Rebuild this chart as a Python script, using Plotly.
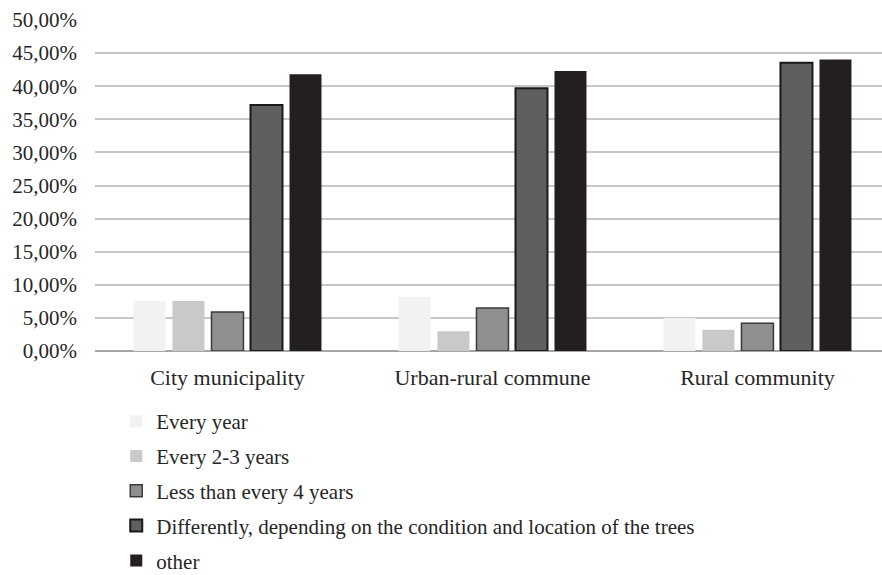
import plotly.graph_objects as go

categories = ["City municipality", "Urban-rural commune", "Rural community"]
series_names = [
    "Every year",
    "Every 2-3 years",
    "Less than every 4 years",
    "Differently, depending on the condition and location of the trees",
    "other",
]
values = [
    [0.0755, 0.0820, 0.0500],
    [0.0755, 0.0300, 0.0320],
    [0.0590, 0.0650, 0.0420],
    [0.3715, 0.3970, 0.4355],
    [0.4180, 0.4230, 0.4405],
]
fill_colors = ["#f2f2f2", "#c9c9c9", "#8f8f8f", "#5f5f5f", "#231f20"]
line_colors = ["#f2f2f2", "#c9c9c9", "#3a3a3a", "#1a1a1a", "#231f20"]
line_widths = [0, 0, 1.5, 2, 0]

fig = go.Figure()
for i, name in enumerate(series_names):
    fig.add_trace(go.Bar(
        x=categories,
        y=values[i],
        name=name,
        legendgroup=f"g{i}",
        marker=dict(color=fill_colors[i],
                    line=dict(color=line_colors[i], width=line_widths[i])),
    ))

fig.update_layout(
    width=882, height=575,
    margin=dict(l=95, r=0, t=20, b=224),
    paper_bgcolor="white", plot_bgcolor="white",
    separators=",.",
    barmode="group",
    bargap=0.264,
    bargroupgap=0.18,
    font=dict(family="Liberation Serif", color="#262626", size=21),
    xaxis=dict(range=[-0.5, 2.47], showgrid=False, ticks="",
               tickfont=dict(size=22), showline=False, zeroline=False,
               ticklabelstandoff=11),
    yaxis=dict(range=[0, 0.5], dtick=0.05, tickformat=".2%",
               showgrid=True, gridcolor="#c6c6c6", gridwidth=2,
               zeroline=True, zerolinecolor="#a6a6a6", zerolinewidth=2,
               tickfont=dict(size=21), ticks="", ticklen=0,
               ticklabelstandoff=17),
    showlegend=True,
    legend=dict(orientation="v", x=0.027, xanchor="left",
                yref="container", y=0.3025, yanchor="top",
                font=dict(size=21), tracegroupgap=4.5, itemwidth=30,
                bgcolor="rgba(0,0,0,0)"),
)

fig.write_html("out.html")
